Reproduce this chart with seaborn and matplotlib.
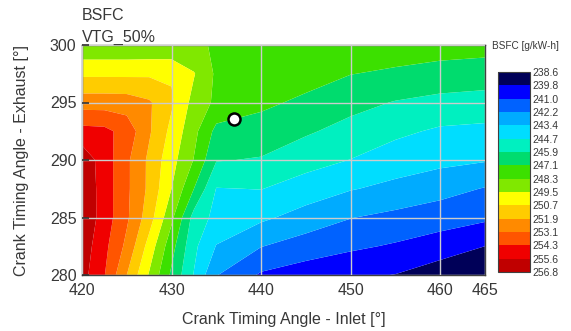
import numpy as np
import matplotlib
matplotlib.use("Agg")
import matplotlib.pyplot as plt
from matplotlib.colors import ListedColormap, BoundaryNorm
import seaborn as sns

# ---------------- data ----------------
inlet_angle = [420, 422.5, 425, 427.5, 430, 432.5, 435, 440, 445, 450, 455, 460, 465]
exhaust_angle = [280, 282.5, 285, 287.5, 290, 292.5, 295, 297.5, 300]

bsfc_280   = [256.04, 254.43, 251.95, 249.41, 246.87, 244.61, 242.30, 240.87, 240.42, 240.05, 239.78, 239.13, 238.70]
bsfc_282_5 = [256.29, 254.70, 252.86, 250.26, 247.54, 244.93, 243.40, 242.28, 241.66, 241.24, 240.89, 240.44, 239.81]
bsfc_285   = [256.60, 255.02, 253.36, 251.30, 248.58, 245.41, 244.30, 243.69, 242.96, 242.28, 241.92, 241.58, 241.25]
bsfc_287_5 = [256.60, 255.00, 253.40, 251.68, 249.52, 247.09, 244.62, 244.70, 244.12, 243.53, 243.13, 242.68, 242.17]
bsfc_290   = [256.40, 255.00, 253.40, 251.70, 249.95, 248.25, 245.95, 245.79, 245.12, 244.64, 244.07, 243.77, 243.55]
bsfc_292_5 = [254.80, 254.70, 253.90, 252.10, 250.40, 248.65, 246.75, 246.56, 246.04, 245.45, 244.92, 244.49, 244.37]
bsfc_295   = [252.60, 252.60, 252.55, 252.10, 250.90, 249.10, 248.05, 247.35, 246.84, 246.28, 245.81, 245.52, 245.41]
bsfc_297_5 = [250.50, 250.50, 250.50, 250.55, 250.60, 249.60, 248.10, 247.80, 247.60, 247.12, 246.91, 246.67, 246.50]
bsfc_300   = [248.50, 248.50, 248.50, 248.50, 248.45, 248.40, 248.25, 248.15, 248.00, 247.90, 247.70, 247.60, 247.55]

cbar_labels = ["238.6", "239.8", "241.0", "242.2", "243.4", "244.7", "245.9", "247.1",
               "248.3", "249.5", "250.7", "251.9", "253.1", "254.3", "255.6", "256.8"]
level_min, level_max = 238.6, 256.8

opt_inlet = [437.0]
opt_exhaust = [293.6]

x_ticks = [420, 430, 440, 450, 460, 465]
y_ticks = [280, 285, 290, 295, 300]

band_colors = ["#000058", "#0000ff", "#0062ff", "#00abff", "#00ddff", "#00f0c0",
               "#00dc6e", "#3ce000", "#80e800", "#ffff00", "#ffcc00", "#ff8a00",
               "#ff5500", "#f00000", "#c00000"]

# ---------------- style ----------------
sns.set_style("white")
plt.rcParams["font.family"] = ["Liberation Sans", "DejaVu Sans"]
text_color = "#383838"
plt.rcParams["text.color"] = text_color
plt.rcParams["axes.labelcolor"] = text_color
plt.rcParams["xtick.color"] = text_color
plt.rcParams["ytick.color"] = text_color

Z = np.array([bsfc_280, bsfc_282_5, bsfc_285, bsfc_287_5, bsfc_290,
              bsfc_292_5, bsfc_295, bsfc_297_5, bsfc_300])
X, Y = np.meshgrid(inlet_angle, exhaust_angle)
levels = np.linspace(level_min, level_max, len(cbar_labels))
cmap = ListedColormap(band_colors)
norm = BoundaryNorm(levels, cmap.N)

fig = plt.figure(figsize=(5.71, 3.31), dpi=100)
ax = fig.add_axes([82 / 571, 1 - 275 / 331, 403 / 571, 230 / 331])
cax = fig.add_axes([498 / 571, 1 - 272 / 331, 32 / 571, 200 / 331])

cs = ax.contourf(X, Y, Z, levels=levels, cmap=cmap, norm=norm, antialiased=True)

sns.scatterplot(x=opt_inlet, y=opt_exhaust, ax=ax, s=75, color="white",
                edgecolor="black", linewidth=1.8, zorder=6, legend=False)

ax.set_xlim(420, 465)
ax.set_ylim(280, 300)
ax.set_xticks(x_ticks)
ax.set_yticks(y_ticks)
ax.set_axisbelow(False)
ax.grid(True, color="#cccccc", linewidth=1.0)
for sp in ax.spines.values():
    sp.set_color("#404040")
    sp.set_linewidth(1.0)
ax.tick_params(axis="y", direction="in", length=5, width=1.2, color="#333333",
               labelsize=11.5, pad=4, left=True)
ax.tick_params(axis="x", length=0, labelsize=11.5, pad=6)
ax.set_xlabel("Crank Timing Angle - Inlet [°]", fontsize=11.5, labelpad=10)
ax.set_ylabel("Crank Timing Angle - Exhaust [°]", fontsize=11.5, labelpad=15)

fig.text(82 / 571, 1 - 16 / 331, "BSFC", ha="left", va="center", fontsize=11.5)
fig.text(82 / 571, 1 - 37 / 331, "VTG_50%", ha="left", va="center", fontsize=11.5)

cb = fig.colorbar(cs, cax=cax, ticks=levels)
cax.set_ylim(level_max, level_min)
cb.set_ticklabels(cbar_labels)
cax.tick_params(length=0, pad=1.5, labelsize=7.5)
cb.outline.set_edgecolor("#404040")
cb.outline.set_linewidth(0.8)
fig.text(492 / 571, 1 - 46 / 331, "BSFC [g/kW-h]", ha="left", va="center", fontsize=7.2)

fig.savefig("out.png", dpi=100)
